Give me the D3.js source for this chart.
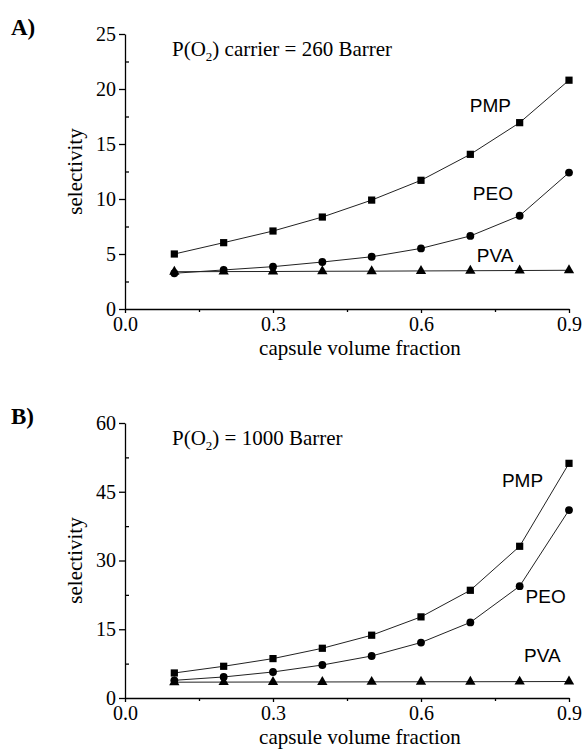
<!DOCTYPE html>
<html lang="en">

<head>
    <meta charset="UTF-8">
    <title>selectivity vs capsule volume fraction</title>
    <style>
        body {
            margin: 0;
            background: #fff;
        }

        .line {
            fill: none;
            stroke: #222;
            stroke-width: 1px;
        }

        .axis path,
        .axis line {
            stroke: #000;
            stroke-width: 1.3px;
        }

        .axis text {
            font-family: "Liberation Serif", "Times New Roman", serif;
            font-size: 20px;
            fill: #000;
        }

        .serif {
            font-family: "Liberation Serif", "Times New Roman", serif;
            font-size: 21px;
        }

        .tag {
            font-family: "Liberation Sans", Arial, sans-serif;
            font-size: 19px;
        }
    </style>
    <script src="https://d3js.org/d3.v7.min.js"></script>
</head>

<body>
    <div id="chart"></div>

    <script>
        // capsule volume fraction
        const fraction = [0.1, 0.2, 0.3, 0.4, 0.5, 0.6, 0.7, 0.8, 0.9];

        // panel A: P(O2) carrier = 260 Barrer
        const pmpA = [5.0, 6.03, 7.09, 8.36, 9.9, 11.7, 14.06, 16.94, 20.8];
        const peoA = [3.25, 3.55, 3.85, 4.27, 4.75, 5.51, 6.64, 8.48, 12.4];
        const pvaA = [3.39, 3.40, 3.41, 3.43, 3.44, 3.46, 3.48, 3.50, 3.52];

        // panel B: P(O2) = 1000 Barrer
        const pmpB = [5.46, 6.92, 8.6, 10.85, 13.7, 17.7, 23.5, 33.1, 51.2];
        const peoB = [3.86, 4.59, 5.68, 7.2, 9.17, 12.1, 16.5, 24.4, 41.0];
        const pvaB = [3.45, 3.47, 3.49, 3.5, 3.52, 3.54, 3.55, 3.57, 3.6];

        // tick values
        const xTicks = [0.0, 0.3, 0.6, 0.9];
        const xMinor = [0.15, 0.45, 0.75];
        const yTicksA = [0, 5, 10, 15, 20, 25];
        const yTicksB = [0, 15, 30, 45, 60];

        const width = 584, height = 749;

        const svg = d3.select("#chart")
            .append("svg")
            .attr("width", width)
            .attr("height", height);

        const x_scale = d3.scaleLinear()
            .domain([0, 0.9])
            .range([125, 569]);

        function drawPanel(opt) {
            const y_scale = d3.scaleLinear()
                .domain([0, opt.ymax])
                .range([opt.bottom, opt.top]);

            const g = svg.append("g");

            // minor ticks (y inward, x outward)
            const step = opt.yTicks[1] - opt.yTicks[0];
            const yMinor = opt.yTicks.slice(0, -1).map(v => v + step / 2);

            g.append("g")
                .attr("class", "axis")
                .attr("transform", "translate(" + x_scale(0) + ",0)")
                .call(d3.axisLeft(y_scale).tickValues(yMinor).tickSize(-4).tickFormat(""))
                .call(a => a.select(".domain").remove());

            g.append("g")
                .attr("class", "axis")
                .attr("transform", "translate(0," + opt.bottom + ")")
                .call(d3.axisBottom(x_scale).tickValues(xMinor).tickSize(3).tickFormat(""))
                .call(a => a.select(".domain").remove());

            // Y axis
            g.append("g")
                .attr("class", "axis")
                .attr("transform", "translate(" + x_scale(0) + ",0)")
                .call(d3.axisLeft(y_scale).tickValues(opt.yTicks).tickSize(6).tickSizeOuter(0).tickPadding(3).tickFormat(d3.format("d")));

            // X axis
            g.append("g")
                .attr("class", "axis")
                .attr("transform", "translate(0," + opt.bottom + ")")
                .call(d3.axisBottom(x_scale).tickValues(xTicks).tickSize(4).tickSizeOuter(0).tickPadding(4).tickFormat(d3.format(".1f")));

            // axis titles
            g.append("text")
                .attr("class", "serif")
                .attr("text-anchor", "middle")
                .attr("x", (x_scale.range()[0] + x_scale.range()[1]) / 2 + 13)
                .attr("y", opt.bottom + 46)
                .text("capsule volume fraction");

            g.append("text")
                .attr("class", "serif")
                .attr("text-anchor", "middle")
                .attr("transform", "translate(82," + (opt.top + opt.bottom) / 2 + ") rotate(-90)")
                .text("selectivity");

            // panel letter
            g.append("text")
                .attr("x", 11)
                .attr("y", opt.top + 1)
                .style("font-family", "'Liberation Serif', serif")
                .style("font-weight", "bold")
                .style("font-size", "23px")
                .text(opt.letter);

            // heading with subscript
            const head = g.append("text")
                .attr("class", "serif")
                .attr("x", 172)
                .attr("y", opt.top + 22);
            head.append("tspan").text("P(O");
            head.append("tspan").attr("dy", 5).style("font-size", "13px").text("2");
            head.append("tspan").attr("dy", -5).text(opt.heading);

            // series
            const series = [
                { values: opt.pmp, shape: d3.symbolSquare, size: 52, label: "PMP", at: opt.pos.pmp },
                { values: opt.peo, shape: d3.symbolCircle, size: 48, label: "PEO", at: opt.pos.peo },
                { values: opt.pva, shape: d3.symbolTriangle, size: 46, label: "PVA", at: opt.pos.pva }
            ];

            const value_line = d3.line()
                .x((d, i) => x_scale(fraction[i]))
                .y(d => y_scale(d));

            series.slice().reverse().forEach(s => {
                g.append("path")
                    .datum(s.values)
                    .attr("class", "line")
                    .attr("d", value_line);

                g.selectAll(null)
                    .data(s.values)
                    .enter()
                    .append("path")
                    .attr("transform", (d, i) => "translate(" + x_scale(fraction[i]) + "," + y_scale(d) + ")")
                    .attr("d", d3.symbol().type(s.shape).size(s.size))
                    .attr("fill", "#000");

                g.append("text")
                    .attr("class", "tag")
                    .attr("x", x_scale(s.at[0]))
                    .attr("y", y_scale(s.at[1]))
                    .text(s.label);
            });
        }

        drawPanel({
            letter: "A)", heading: ") carrier = 260 Barrer",
            top: 34, bottom: 309, ymax: 25, yTicks: yTicksA,
            pmp: pmpA, peo: peoA, pva: pvaA,
            pos: { pmp: [0.699, 17.9], peo: [0.705, 9.9], pva: [0.713, 4.3] }
        });

        drawPanel({
            letter: "B)", heading: ") = 1000 Barrer",
            top: 423, bottom: 698, ymax: 60, yTicks: yTicksB,
            pmp: pmpB, peo: peoB, pva: pvaB,
            pos: { pmp: [0.764, 46.1], peo: [0.812, 20.7], pva: [0.809, 7.9] }
        });
    </script>
</body>

</html>
